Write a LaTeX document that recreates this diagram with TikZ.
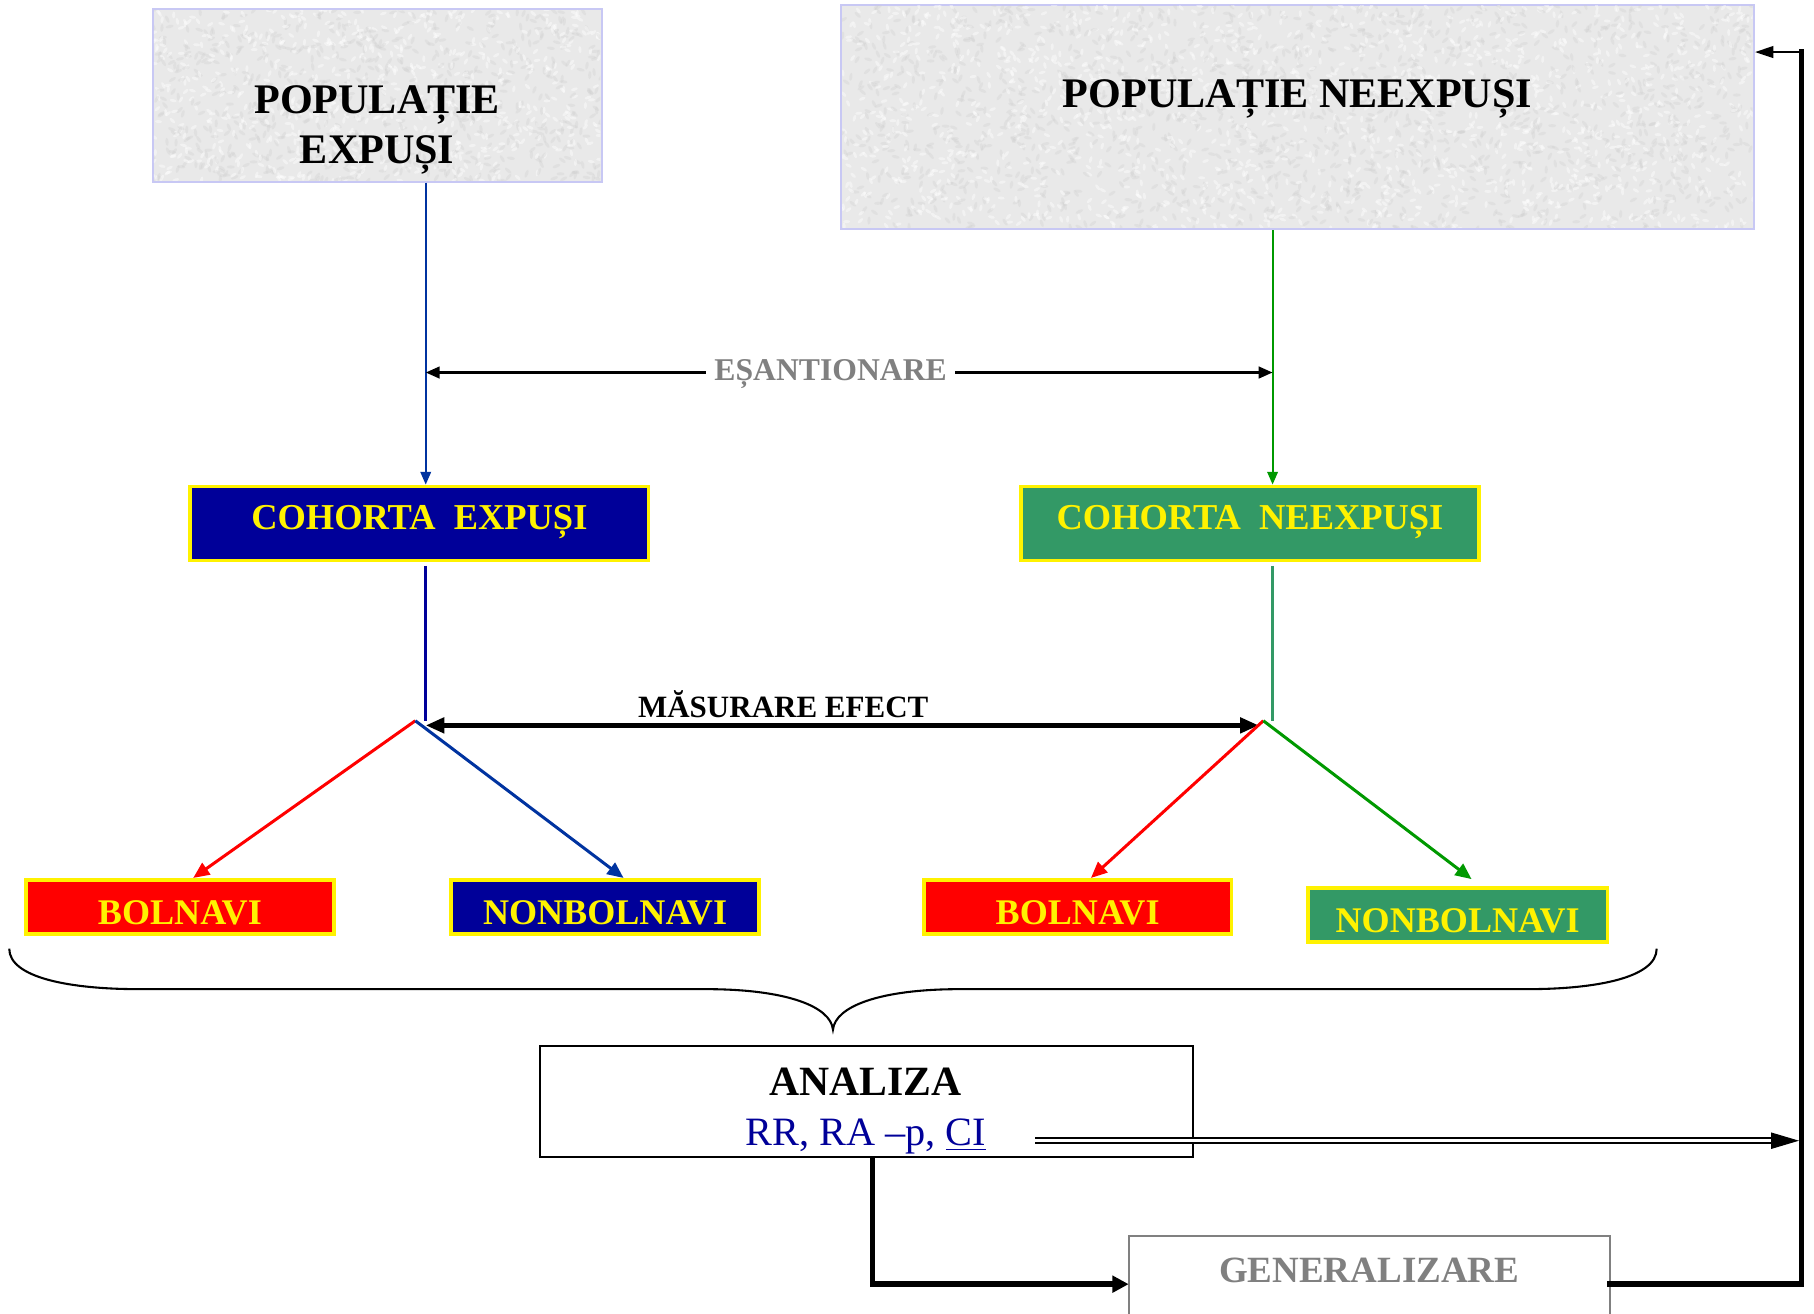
\documentclass[tikz,border=0pt]{standalone}
\usepackage{fontspec}
\setmainfont{Liberation Serif}
\usetikzlibrary{arrows.meta,calc}

\definecolor{cobalt}{HTML}{000099}
\definecolor{seagrn}{HTML}{339966}
\definecolor{linkblue}{HTML}{0033A0}
\definecolor{brightgrn}{HTML}{009900}
\definecolor{lavender}{HTML}{C8C8F4}
\definecolor{midgray}{HTML}{808080}
\definecolor{paper}{HTML}{E9E9E9}

\newcommand\fsz[1]{\fontsize{#1}{#1}\selectfont}

\tikzset{
  popbox/.style={draw=lavender, line width=0.9pt, fill=paper, inner sep=0},
  captext/.style={inner sep=0, text depth=0pt},
  ttl/.style={captext, font=\bfseries\fsz{18.2}, text height=12.05pt},
  cohort/.style={draw=yellow, line width=1.6pt, text=yellow, inner sep=0,
    font=\bfseries\fsz{15.75}, minimum width=198pt, minimum height=32pt,
    text height=10.4pt, text depth=5.5pt},
  tagbox/.style={draw=yellow, line width=1.6pt, text=yellow, inner sep=0,
    font=\bfseries\fsz{15.6}, minimum width=133pt, minimum height=23.5pt,
    text height=14.8pt, text depth=0pt},
  speckdark/.style={fill=black!20, opacity=0.28},
  specklight/.style={fill=white, opacity=0.45},
  feed/.style={line width=0.9pt, -{Triangle[length=5.5pt,width=4.5pt]}},
  branch/.style={line width=1.3pt, -{Triangle[length=7pt,width=6pt]}},
  heavy/.style={line width=2.4pt},
}

\begin{document}
\begin{tikzpicture}[x=0.5pt, y=-0.5pt]
\useasboundingbox (0,0) rectangle (1568,1135);
\fill[white] (0,0) rectangle (1568,1135);

% ---- population boxes with a grainy fill
\node[popbox, minimum width=194pt, minimum height=74.5pt] (p1) at (326,82.5) {};
\node[popbox, minimum width=394.5pt, minimum height=97pt] (p2) at (1121.5,101) {};
\pgfmathsetseed{11}
\foreach \bx/\by/\bw/\bh/\n in {132/8/388/149/700, 727/4/789/194/1500}{
  \begin{scope}
    \clip (\bx+1,\by+1) rectangle (\bx+\bw-1,\by+\bh-1);
    \foreach \i in {1,...,\n}{
      \pgfmathsetmacro\sx{\bx+\bw*rnd}
      \pgfmathsetmacro\sy{\by+\bh*rnd}
      \pgfmathsetmacro\sa{180*rnd}
      \fill[speckdark, rotate around={\sa:(\sx,\sy)}] (\sx,\sy) ellipse (3.5 and 1.4);
      \pgfmathsetmacro\tx{\bx+\bw*rnd}
      \pgfmathsetmacro\ty{\by+\bh*rnd}
      \fill[specklight, rotate around={\sa:(\tx,\ty)}] (\tx,\ty) ellipse (3 and 1.3);
    }
  \end{scope}
}
\node[ttl] (p1a) at (326,86) {POPULAȚIE};
\node[ttl] (p1b) at (326,129) {EXPUȘI};
\node[ttl] (p2t) at (1121.5,81) {POPULAȚIE NEEXPUȘI};

% ---- cohorts
\node[cohort, fill=cobalt] (c1) at (362.5,452.5) {COHORTA~~EXPUȘI};
\node[cohort, fill=seagrn] (c2) at (1080.5,452.5) {COHORTA~~NEEXPUȘI};

% ---- outcome boxes
\node[tagbox, fill=red] (b1) at (155.5,784) {BOLNAVI};
\node[tagbox, fill=cobalt] (nb1) at (523,784) {NONBOLNAVI};
\node[tagbox, fill=red] (b2) at (931.5,784) {BOLNAVI};
\node[tagbox, fill=seagrn, minimum width=129.5pt] (nb2) at (1260,791) {NONBOLNAVI};

% ---- sampling from the populations
\coordinate (xl) at (368,0);
\coordinate (xr) at (1100,0);
\draw[feed, linkblue] (p1.south -| xl) -- (c1.north -| xl);
\draw[feed, brightgrn] (p2.south -| xr) -- (c2.north -| xr);

\coordinate (eL) at (368,322);
\coordinate (eR) at (1100,322);
\draw[line width=1.1pt, {Triangle[length=6pt,width=5pt]}-{Triangle[length=6pt,width=5pt]}] (eL) -- (eR);
\node[captext, fill=white, inner xsep=3.5pt, font=\bfseries\fsz{13.7}, text height=9.1pt, text=midgray] (es) at (718,320) {EȘANTIONARE};

% ---- follow-up of each cohort
\coordinate (vL) at (359,623);
\coordinate (vR) at (1092,623);
\draw[cobalt, line width=1.3pt, shorten <=1.5pt] (c1.south -| xl) -- (xl |- vL);
\draw[seagrn, line width=1.3pt, shorten <=1.5pt] (c2.south -| xr) -- (xr |- vR);

\coordinate (mL) at (368,627);
\coordinate (mR) at (1088,627);
\draw[line width=1.9pt, {Triangle[length=8pt,width=6.5pt]}-{Triangle[length=8pt,width=6.5pt]}] (mL) -- (mR);
\node[captext, font=\bfseries\fsz{13.4}, text height=8.9pt] (me) at (677,611) {MĂSURARE EFECT};

\draw[branch, red] (vL) -- ([xshift=5.75pt]b1.north);
\draw[branch, linkblue] (vL) -- ([xshift=8pt]nb1.north);
\draw[branch, red] (vR) -- ([xshift=5.75pt]b2.north);
\draw[branch, brightgrn] (vR) -- ([xshift=6pt,yshift=3pt]nb2.north);

% ---- brace gathering the four groups
\draw[line width=0.9pt] (8,820) .. controls (8,845) and (60,855) .. (120,855)
  -- (610,855) .. controls (680,855) and (718,870) .. (720,890)
  .. controls (722,870) and (760,855) .. (830,855)
  -- (1320,855) .. controls (1380,855) and (1432,845) .. (1432,820);

% ---- analysis
\node[draw, line width=0.8pt, fill=white, inner sep=0, minimum width=282pt, minimum height=48pt] (a) at (749,952) {};
\node[captext, font=\bfseries\fsz{18}, text height=11.9pt] (a1) at (748,934.7) {ANALIZA};
\node[captext, font=\fsz{17.4}, text height=11.5pt, text=cobalt] (a2) at (748.5,979) {RR, RA –p, \underline{CI}};

% ---- generalisation
\node[captext, fill=white, minimum width=207.5pt, minimum height=29pt, font=\bfseries\fsz{16}, text height=10.6pt, text=midgray] (g) at (1183.5,1098) {GENERALIZARE};
\draw[midgray, line width=0.9pt] ([yshift=-20pt]g.south west) -- (g.north west) -- (g.north east) -- ([yshift=-20pt]g.south east);

% ---- feedback loop
\coordinate (k) at (754,1110);
\coordinate (rb) at (1557,1110);
\coordinate (rt) at (1557,45);
\coordinate (ds) at (895,986);
\draw[heavy, -{Triangle[length=7pt,width=7pt]}] (a.south -| k) -- (k) -- (g.west |- k);
\draw[heavy, line cap=rect] (g.east |- rb) -- (rb) -- (rt);
\draw[line width=1.1pt, -{Triangle[length=8pt,width=5pt]}] (rt) -- (p2.east |- rt);
\draw[double, double distance=1.2pt, line width=0.9pt] (ds) -- ($(rb |- ds)+(-22,0)$);
\draw[line width=0.5pt, -{Triangle[length=12pt,width=7pt]}] ($(rb |- ds)+(-26,0)$) -- ($(rb |- ds)+(-2,0)$);
\end{tikzpicture}
\end{document}
